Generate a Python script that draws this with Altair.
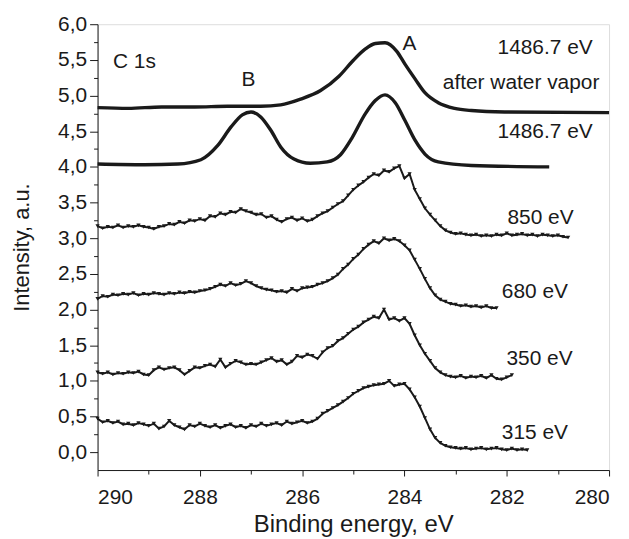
import altair as alt
import pandas as pd

# ---- smooth spectra (1486.7 eV) : (binding energy, intensity) ----
water_E = [290.0, 289.4, 288.75, 288.1, 287.46, 286.81, 286.42, 286.03, 285.64, 285.28,
           285.03, 284.77, 284.57, 284.38, 284.15, 283.99, 283.79, 283.60, 283.34, 283.02,
           282.69, 282.04, 280.0]
water_I = [4.83, 4.82, 4.84, 4.84, 4.85, 4.85, 4.87, 4.95, 5.07, 5.27,
           5.47, 5.65, 5.73, 5.74, 5.62, 5.44, 5.23, 5.04, 4.90, 4.82,
           4.79, 4.77, 4.76]

al_E = [290.0, 289.08, 288.43, 287.98, 287.65, 287.39, 287.17, 287.00, 286.81, 286.61,
        286.42, 286.16, 285.84, 285.51, 285.25, 285.03, 284.77, 284.57, 284.38, 284.18,
        283.99, 283.79, 283.60, 283.34, 282.69, 281.17]
al_I = [4.04, 4.03, 4.04, 4.10, 4.30, 4.56, 4.73, 4.77, 4.70, 4.51,
        4.28, 4.11, 4.05, 4.07, 4.17, 4.40, 4.74, 4.93, 5.01, 4.90,
        4.65, 4.37, 4.18, 4.07, 4.02, 4.00]

# ---- noisy spectra, sampled every 0.1 eV from 290.0 eV downward ----
I_850 = [3.17, 3.14, 3.16, 3.15, 3.18, 3.15, 3.17, 3.16, 3.18, 3.16,
         3.15, 3.13, 3.16, 3.17, 3.20, 3.19, 3.23, 3.21, 3.25, 3.24,
         3.27, 3.25, 3.31, 3.30, 3.35, 3.33, 3.37, 3.36, 3.41, 3.38,
         3.36, 3.33, 3.34, 3.29, 3.31, 3.26, 3.23, 3.27, 3.29, 3.25,
         3.28, 3.24, 3.26, 3.31, 3.35, 3.38, 3.43, 3.48, 3.52, 3.60,
         3.68, 3.74, 3.79, 3.85, 3.90, 3.88, 3.95, 3.93, 3.98, 4.01,
         3.84, 3.90, 3.68, 3.55, 3.42, 3.33, 3.25, 3.17, 3.11, 3.08,
         3.06, 3.07, 3.05, 3.04, 3.05, 3.03, 3.04, 3.03, 3.05, 3.04,
         3.07, 3.04, 3.05, 3.06, 3.04, 3.05, 3.03, 3.05, 3.04, 3.03,
         3.04, 3.02, 3.01]
I_680 = [2.15, 2.19, 2.18, 2.21, 2.20, 2.22, 2.21, 2.23, 2.20, 2.22,
         2.21, 2.23, 2.22, 2.21, 2.23, 2.22, 2.24, 2.23, 2.25, 2.24,
         2.26, 2.27, 2.29, 2.32, 2.35, 2.33, 2.37, 2.34, 2.36, 2.40,
         2.37, 2.33, 2.30, 2.28, 2.27, 2.25, 2.26, 2.24, 2.29, 2.26,
         2.30, 2.31, 2.32, 2.35, 2.37, 2.40, 2.44, 2.49, 2.57, 2.63,
         2.71, 2.77, 2.85, 2.91, 2.96, 2.93, 3.00, 2.97, 2.99, 2.96,
         2.90, 2.83, 2.70, 2.57, 2.43, 2.30, 2.20, 2.14, 2.11, 2.08,
         2.07, 2.05, 2.06, 2.04, 2.05, 2.03, 2.05, 2.02, 2.02]
I_350 = [1.12, 1.10, 1.12, 1.09, 1.11, 1.10, 1.12, 1.11, 1.13, 1.09,
         1.08, 1.15, 1.19, 1.16, 1.18, 1.19, 1.15, 1.09, 1.14, 1.19,
         1.18, 1.21, 1.23, 1.20, 1.30, 1.19, 1.24, 1.28, 1.26, 1.23,
         1.24, 1.23, 1.26, 1.29, 1.32, 1.27, 1.29, 1.23, 1.27, 1.35,
         1.33, 1.37, 1.35, 1.31, 1.40, 1.46, 1.49, 1.56, 1.60, 1.66,
         1.72, 1.76, 1.82, 1.86, 1.90, 1.88, 2.00, 1.86, 1.88, 1.84,
         1.88, 1.80, 1.64, 1.50, 1.38, 1.28, 1.18, 1.12, 1.08, 1.06,
         1.05, 1.07, 1.04, 1.06, 1.05, 1.07, 1.04, 1.08, 1.03, 1.02,
         1.05, 1.08]
I_315 = [0.47, 0.42, 0.44, 0.41, 0.43, 0.39, 0.40, 0.38, 0.41, 0.39,
         0.37, 0.40, 0.33, 0.36, 0.44, 0.38, 0.35, 0.32, 0.38, 0.36,
         0.40, 0.37, 0.35, 0.38, 0.34, 0.37, 0.39, 0.35, 0.37, 0.34,
         0.38, 0.36, 0.40, 0.37, 0.39, 0.41, 0.38, 0.43, 0.40, 0.42,
         0.44, 0.41, 0.43, 0.47, 0.54, 0.58, 0.62, 0.66, 0.71, 0.76,
         0.82, 0.86, 0.90, 0.92, 0.94, 0.95, 0.96, 1.00, 0.93, 0.95,
         0.96, 0.88, 0.77, 0.64, 0.48, 0.32, 0.20, 0.13, 0.09, 0.07,
         0.06, 0.05, 0.06, 0.04, 0.05, 0.06, 0.04, 0.05, 0.06, 0.04,
         0.03, 0.05, 0.03, 0.04, 0.03]

E_START = 290.0
E_STEP = 0.1

# ---- annotations ----
ann_text = ["C 1s", "B", "A", "1486.7 eV", "after water vapor", "1486.7 eV",
            "850 eV", "680 eV", "350 eV", "315 eV"]
ann_E = [289.7, 287.05, 283.90, 281.25, 281.72, 281.25, 281.34, 281.45, 281.36, 281.45]
ann_I = [5.47, 5.22, 5.72, 5.67, 5.18, 4.49, 3.28, 2.25, 1.30, 0.27]
ann_align = ["left", "center", "center", "center", "center", "center",
             "center", "center", "center", "center"]

x_major = [290, 288, 286, 284, 282, 280]
x_minor = [289, 287, 285, 283, 281]
y_major = [0.0, 0.5, 1.0, 1.5, 2.0, 2.5, 3.0, 3.5, 4.0, 4.5, 5.0, 5.5, 6.0]
y_minor = [0.25, 0.75, 1.25, 1.75, 2.25, 2.75, 3.25, 3.75, 4.25, 4.75, 5.25, 5.75]

# ---- build tables ----
rows = []
for e, i in zip(water_E, water_I):
    rows.append({"E": e, "I": i, "s": "water"})
for e, i in zip(al_E, al_I):
    rows.append({"E": e, "I": i, "s": "al"})
smooth = pd.DataFrame(rows)

rows = []
for name, arr in [("850", I_850), ("680", I_680), ("350", I_350), ("315", I_315)]:
    for k, v in enumerate(arr):
        rows.append({"E": round(E_START - k * E_STEP, 2), "I": v, "s": name})
noisy = pd.DataFrame(rows)

ann = pd.DataFrame({"t": ann_text, "E": ann_E, "I": ann_I, "a": ann_align})

FONT = "Liberation Sans"
INK = "#1a1a1a"

xscale = alt.Scale(domain=[280, 290], reverse=True, nice=False, zero=False)
yscale = alt.Scale(domain=[-0.25, 6.0], nice=False, zero=False)

x_major_axis = alt.Axis(values=x_major, format="d", title="Binding energy, eV",
                        tickSize=6, labelPadding=11, titlePadding=5,
                        labelFontSize=21, titleFontSize=24, labelFont=FONT, titleFont=FONT,
                        labelColor=INK, titleColor=INK, titleFontWeight="normal",
                        domainColor=INK, tickColor=INK, grid=False, orient="bottom")
y_major_axis = alt.Axis(values=y_major,
                        labelExpr="replace(format(datum.value, '.1f'), '.', ',')",
                        title="Intensity, a.u.", tickSize=8, labelPadding=3, titlePadding=24,
                        labelFontSize=21, titleFontSize=22, labelFont=FONT, titleFont=FONT,
                        labelColor=INK, titleColor=INK, titleFontWeight="normal",
                        domainColor=INK, tickColor=INK, grid=False, orient="left")
x_minor_axis = alt.Axis(values=x_minor, labels=False, title=None, tickSize=4,
                        domain=False, tickColor=INK, grid=False, orient="bottom")
y_minor_axis = alt.Axis(values=y_minor, labels=False, title=None, tickSize=4,
                        domain=False, tickColor=INK, grid=False, orient="left")

smooth_layer = alt.Chart(smooth).mark_line(
    color=INK, strokeWidth=3.4, interpolate="monotone"
).encode(
    x=alt.X("E:Q", scale=xscale, axis=x_major_axis),
    y=alt.Y("I:Q", scale=yscale, axis=y_major_axis),
    detail="s:N",
)

noisy_line = alt.Chart(noisy).mark_line(color=INK, strokeWidth=2.0).encode(
    x=alt.X("E:Q", scale=xscale, axis=None),
    y=alt.Y("I:Q", scale=yscale, axis=None),
    detail="s:N",
)
noisy_pts = alt.Chart(noisy).mark_point(
    color=INK, filled=True, shape="triangle-down", size=18, opacity=1
).encode(
    x=alt.X("E:Q", scale=xscale, axis=None),
    y=alt.Y("I:Q", scale=yscale, axis=None),
)

minor_layer = alt.Chart(noisy).mark_point(opacity=0).encode(
    x=alt.X("E:Q", scale=xscale, axis=x_minor_axis),
    y=alt.Y("I:Q", scale=yscale, axis=y_minor_axis),
)

def text_layer(align):
    return alt.Chart(ann[ann["a"] == align]).mark_text(
        font=FONT, fontSize=21, color=INK, align=align, baseline="middle"
    ).encode(
        x=alt.X("E:Q", scale=xscale, axis=None),
        y=alt.Y("I:Q", scale=yscale, axis=None),
        text="t:N",
    )

chart = alt.layer(
    smooth_layer, minor_layer, noisy_line, noisy_pts,
    text_layer("left"), text_layer("center"),
).resolve_axis(x="independent", y="independent").properties(
    width=514, height=448,
    autosize=alt.AutoSizeParams(type="none"),
    padding={"left": 90, "top": 15, "right": 12, "bottom": 68},
).configure_view(stroke=INK, strokeWidth=1.2).configure(background="white")

chart.save("out.html", embed_options={"renderer": "svg", "actions": False})
